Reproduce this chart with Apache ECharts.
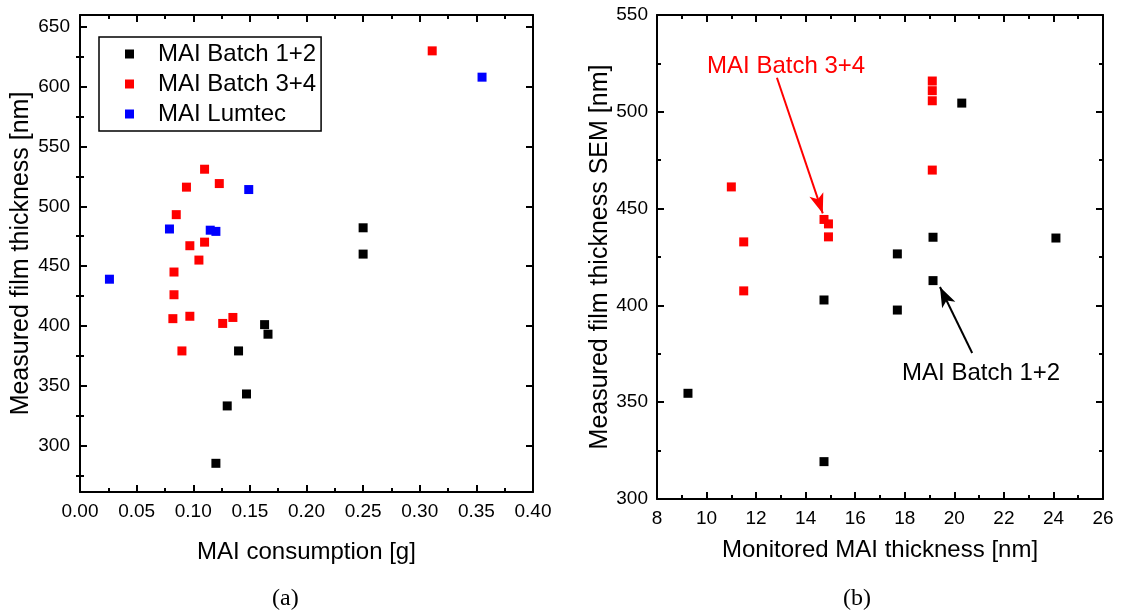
<!DOCTYPE html>
<html><head><meta charset="utf-8">
<script src="https://cdn.jsdelivr.net/npm/echarts@6/dist/echarts.min.js"></script>
<style>html,body{margin:0;padding:0;background:#fff}#c{width:1141px;height:616px}</style>
</head><body><div id="c"></div>
<script>
// ---- Panel (a): MAI consumption [g] vs measured film thickness [nm]
const consumptionBatch12 = [0.250, 0.250, 0.163, 0.166, 0.140, 0.147, 0.130, 0.120];
const thicknessBatch12   = [482, 460, 401, 393, 379, 343, 333, 285];
const consumptionBatch34 = [0.311, 0.110, 0.094, 0.123, 0.085, 0.097, 0.110, 0.105, 0.083, 0.083, 0.082, 0.097, 0.126, 0.135, 0.090];
const thicknessBatch34   = [630, 531, 516, 519, 493, 467, 470, 455, 445, 426, 406, 408, 402, 407, 379];
const consumptionLumtec  = [0.355, 0.149, 0.079, 0.115, 0.120, 0.026];
const thicknessLumtec    = [608, 514, 481, 480, 479, 439];

// ---- Panel (b): monitored MAI thickness [nm] vs SEM thickness [nm]
const monitoredBatch12 = [20.3, 19.14, 24.1, 17.7, 19.14, 14.74, 17.7, 9.25, 14.74];
const semBatch12       = [504.5, 435.2, 434.8, 426.6, 412.8, 402.8, 397.6, 354.6, 319.3];
const monitoredBatch34 = [11.0, 11.5, 14.74, 14.92, 14.92, 19.11, 19.11, 19.11, 19.11, 11.5];
const semBatch34       = [461.2, 432.8, 444.4, 442.1, 435.4, 515.9, 510.9, 505.7, 469.9, 407.5];

const seriesNames = ['MAI Batch 1+2', 'MAI Batch 3+4', 'MAI Lumtec'];
const captions = ['(a)', '(b)'];

// tick values for panel (a) y axis
const aYMajor = [300, 350, 400, 450, 500, 550, 600, 650];
const aYMinor = [275, 325, 375, 425, 475, 525, 575, 625];

const FONT = 'Liberation Sans, Arial, Helvetica, sans-serif';
const zip = (xs, ys) => xs.map((x, i) => [x, ys[i]]);
const line = { show: true, onZero: false, lineStyle: { color: '#000', width: 2 } };
const tickStyle = { color: '#000', width: 2 };

function xAxes(gridIndex, min, max, interval, name, nameGap, labelFmt) {
  const base = {
    type: 'value', gridIndex, min, max, interval,
    axisLine: line,
    axisTick: { show: true, inside: true, length: 7, lineStyle: tickStyle },
    minorTick: { show: true, splitNumber: 2, length: 4, lineStyle: tickStyle },
    splitLine: { show: false }, minorSplitLine: { show: false }
  };
  return [
    Object.assign({}, base, {
      position: 'bottom', name, nameLocation: 'middle', nameGap,
      nameTextStyle: { fontFamily: FONT, fontSize: 24, color: '#000' },
      axisLabel: { show: true, fontFamily: FONT, fontSize: 19, color: '#000', margin: 10, formatter: labelFmt }
    }),
    Object.assign({}, base, { position: 'top', axisLabel: { show: false } })
  ];
}

const option = {
  animation: false,
  backgroundColor: '#fff',
  grid: [
    { left: 80, right: 608, top: 15, bottom: 124 },
    { left: 657, right: 38, top: 15, bottom: 117 }
  ],
  xAxis: [
    ...xAxes(0, 0, 0.4, 0.05, 'MAI consumption [g]', 48, v => v.toFixed(2)),
    ...xAxes(1, 8, 26, 2, 'Monitored MAI thickness [nm]', 39, v => String(v))
  ],
  yAxis: [
    // panel (a): left major
    { type: 'value', gridIndex: 0, position: 'left', min: 261, max: 660,
      name: 'Measured film thickness [nm]', nameLocation: 'middle', nameGap: 46,
      nameTextStyle: { fontFamily: FONT, fontSize: 25, color: '#000' },
      axisLine: line,
      axisTick: { show: true, inside: true, length: 7, lineStyle: tickStyle, customValues: aYMajor },
      axisLabel: { show: true, fontFamily: FONT, fontSize: 19, color: '#000', margin: 10, customValues: aYMajor },
      splitLine: { show: false } },
    // panel (a): right major
    { type: 'value', gridIndex: 0, position: 'right', min: 261, max: 660,
      axisLine: line,
      axisTick: { show: true, inside: true, length: 7, lineStyle: tickStyle, customValues: aYMajor },
      axisLabel: { show: false }, splitLine: { show: false } },
    // panel (a): left minor
    { type: 'value', gridIndex: 0, position: 'left', min: 261, max: 660,
      axisLine: { show: false },
      axisTick: { show: true, inside: true, length: 4, lineStyle: tickStyle, customValues: aYMinor },
      axisLabel: { show: false }, splitLine: { show: false } },
    // panel (a): right minor
    { type: 'value', gridIndex: 0, position: 'right', min: 261, max: 660,
      axisLine: { show: false },
      axisTick: { show: true, inside: true, length: 4, lineStyle: tickStyle, customValues: aYMinor },
      axisLabel: { show: false }, splitLine: { show: false } },
    // panel (b): left
    { type: 'value', gridIndex: 1, position: 'left', min: 300, max: 550, interval: 50,
      name: 'Measured film thickness SEM [nm]', nameLocation: 'middle', nameGap: 41,
      nameTextStyle: { fontFamily: FONT, fontSize: 25, color: '#000' },
      axisLine: line,
      axisTick: { show: true, inside: true, length: 7, lineStyle: tickStyle },
      minorTick: { show: true, splitNumber: 2, length: 4, lineStyle: tickStyle },
      axisLabel: { show: true, fontFamily: FONT, fontSize: 19, color: '#000', margin: 9 },
      splitLine: { show: false }, minorSplitLine: { show: false } },
    // panel (b): right
    { type: 'value', gridIndex: 1, position: 'right', min: 300, max: 550, interval: 50,
      axisLine: line,
      axisTick: { show: true, inside: true, length: 7, lineStyle: tickStyle },
      minorTick: { show: true, splitNumber: 2, length: 4, lineStyle: tickStyle },
      axisLabel: { show: false }, splitLine: { show: false }, minorSplitLine: { show: false } }
  ],
  legend: {
    data: seriesNames,
    orient: 'vertical', left: 99, top: 37,
    padding: [5, 5, 5, 26],
    borderColor: '#000', borderWidth: 1.5,
    itemWidth: 9, itemHeight: 9, itemGap: 6, icon: 'rect',
    textStyle: { fontFamily: FONT, fontSize: 24, color: '#000', lineHeight: 24, padding: [0, 0, 0, 19] }
  },
  graphic: [
    { type: 'text', left: 272, top: 587, style: { text: captions[0], font: '24px "Liberation Serif", "DejaVu Serif", serif', fill: '#000' } },
    { type: 'text', left: 843, top: 587, style: { text: captions[1], font: '24px "Liberation Serif", "DejaVu Serif", serif', fill: '#000' } }
  ],
  series: [
    { name: seriesNames[0], type: 'scatter', xAxisIndex: 0, yAxisIndex: 0, symbol: 'rect', symbolSize: 9,
      itemStyle: { color: '#000000', opacity: 1 }, data: zip(consumptionBatch12, thicknessBatch12) },
    { name: seriesNames[1], type: 'scatter', xAxisIndex: 0, yAxisIndex: 0, symbol: 'rect', symbolSize: 9,
      itemStyle: { color: '#ff0000', opacity: 1 }, data: zip(consumptionBatch34, thicknessBatch34) },
    { name: seriesNames[2], type: 'scatter', xAxisIndex: 0, yAxisIndex: 0, symbol: 'rect', symbolSize: 9,
      itemStyle: { color: '#0000ff', opacity: 1 }, data: zip(consumptionLumtec, thicknessLumtec) },
    { name: 'b-' + seriesNames[0], type: 'scatter', xAxisIndex: 2, yAxisIndex: 4, symbol: 'rect', symbolSize: 9,
      itemStyle: { color: '#000000', opacity: 1 }, data: zip(monitoredBatch12, semBatch12),
      markLine: { silent: true, animation: false, label: { show: false },
        lineStyle: { color: '#000', width: 2, type: 'solid', opacity: 1 },
        data: [[ { coord: [20.72, 375.4], symbol: 'none' }, { coord: [19.42, 409.5], symbol: 'arrow', symbolSize: [11, 20] } ]] },
      markPoint: { silent: true, animation: false, symbol: 'rect', symbolSize: 1, itemStyle: { color: 'rgba(0,0,0,0)' },
        data: [ { coord: [17.87, 365], label: { show: true, position: 'right', distance: 0, formatter: seriesNames[0], color: '#000', fontFamily: FONT, fontSize: 24 } } ] } },
    { name: 'b-' + seriesNames[1], type: 'scatter', xAxisIndex: 2, yAxisIndex: 4, symbol: 'rect', symbolSize: 9,
      itemStyle: { color: '#ff0000', opacity: 1 }, data: zip(monitoredBatch34, semBatch34),
      markLine: { silent: true, animation: false, label: { show: false },
        lineStyle: { color: '#ff0000', width: 2, type: 'solid', opacity: 1 },
        data: [[ { coord: [12.84, 517.6], symbol: 'none' }, { coord: [14.69, 447.5], symbol: 'arrow', symbolSize: [11, 20] } ]] },
      markPoint: { silent: true, animation: false, symbol: 'rect', symbolSize: 1, itemStyle: { color: 'rgba(0,0,0,0)' },
        data: [ { coord: [10.0, 523.5], label: { show: true, position: 'right', distance: 0, formatter: seriesNames[1], color: '#ff0000', fontFamily: FONT, fontSize: 24 } } ] } }
  ]
};
const chart = echarts.init(document.getElementById('c'));
chart.setOption(option);
</script>
</body></html>
